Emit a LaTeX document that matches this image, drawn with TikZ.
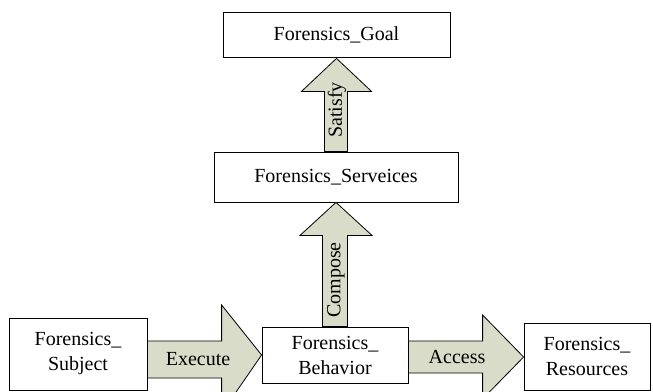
\documentclass[tikz,border=0pt]{standalone}
\usepackage{fontspec}
\setmainfont{Liberation Serif}
\newfontfamily\diagfont{Liberation Serif}
\usetikzlibrary{calc}
\definecolor{arrowfill}{RGB}{216,220,200}
\begin{document}
\begin{tikzpicture}[x=1pt,y=-1pt,
  box/.style={draw=black,line width=0.8pt,fill=white,align=center,inner sep=0pt,
    font=\diagfont\fontsize{20}{25}\selectfont},
  blockarrow/.style={draw=black,line width=0.8pt,fill=arrowfill,line join=miter},
  arrowlabel/.style={font=\diagfont\fontsize{20}{24}\selectfont,inner sep=0pt}]
\useasboundingbox (0,0) rectangle (653,391);
\clip (0,0) rectangle (653,391);

% boxes
\node[box,minimum width=227pt,minimum height=45pt] (goal) at (336.5,34.5) {Forensics\_Goal};
\node[box,minimum width=244pt,minimum height=50pt] (services) at (336,177) {Forensics\_Serveices};
\node[box,minimum width=138pt,minimum height=72pt] (subject) at (78,354) {Forensics\_\\Subject};
\node[box,minimum width=146pt,minimum height=56pt] (behavior) at (335,355) {Forensics\_\\Behavior};
\node[box,minimum width=126pt,minimum height=67pt] (resources) at (587,356.5) {Forensics\_\\Resources};

% Satisfy: services -> goal
\draw[blockarrow] ($(services.north)+(-11.5,0)$) |- ($(goal.south)+(-35,34)$)
  -- ($(goal.south)+(0,1)$) -- ($(goal.south)+(35,34)$)
  -| ($(services.north)+(11.5,0)$) -- cycle;
\node[arrowlabel,rotate=90] (satisfy) at (337,110) {Satisfy};

% Compose: behavior -> services
\draw[blockarrow] ($(behavior.north)+(-12.5,0)$) |- ($(services.south)+(-36,33)$)
  -- (services.south) -- ($(services.south)+(36,33)$)
  -| ($(behavior.north)+(12.5,0)$) -- cycle;
\node[arrowlabel,rotate=90] (compose) at (336,280) {Compose};

% Execute: subject -> behavior
\draw[blockarrow] ($(subject.east)+(0,-13)$) -- ($(behavior.west)+(-40,-14)$)
  -- ++(0,-36) -- ($(behavior.west)+(0,0)$) -- ($(behavior.west)+(-40,58)$)
  -- ++(0,-35) -- ($(subject.east)+(0,24)$) -- cycle;
\node[arrowlabel] (execute) at (198,359) {Execute};

% Access: behavior -> resources
\draw[blockarrow] ($(behavior.east)+(0,-14)$) -- ($(resources.west)+(-41,-15.5)$)
  -- ($(resources.west)+(-41,-41.5)$) -- ($(resources.west)+(0,0.5)$)
  -- ($(resources.west)+(-41,42.5)$) -- ($(resources.west)+(-41,16.5)$)
  -- ($(behavior.east)+(0,18)$) -- cycle;
\node[arrowlabel] (access) at (457,357) {Access};
\end{tikzpicture}
\end{document}
